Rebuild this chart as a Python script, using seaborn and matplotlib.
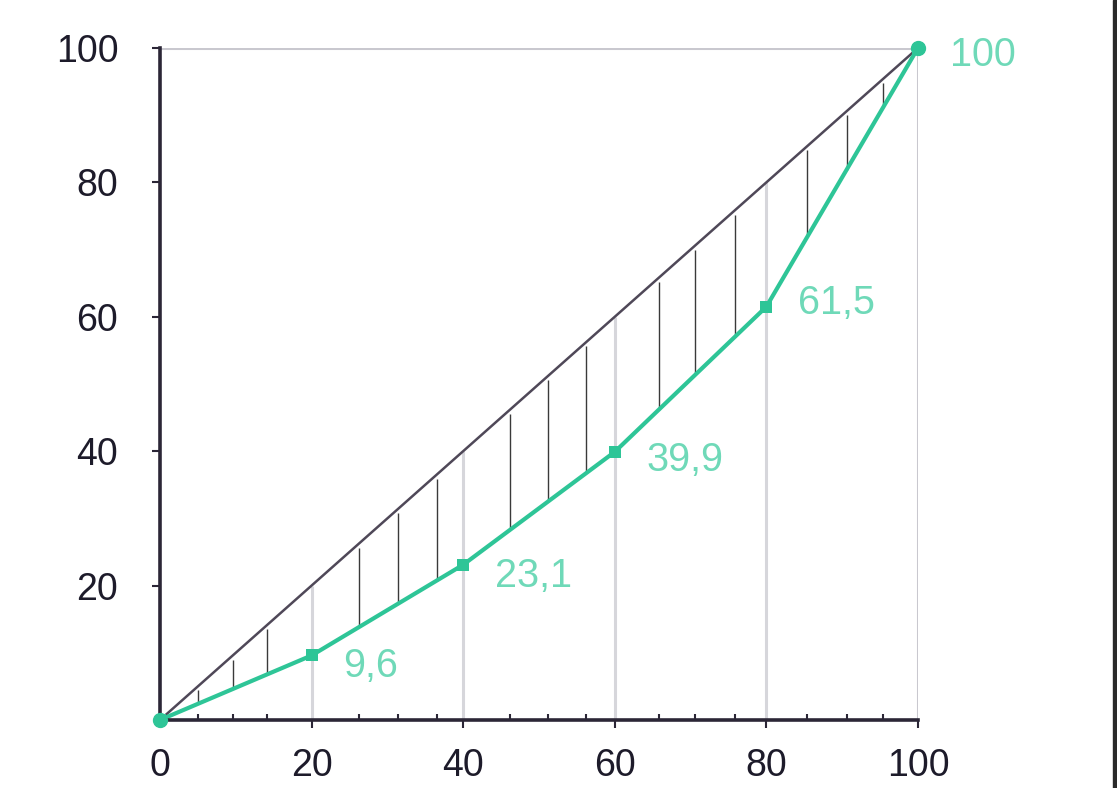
import matplotlib
matplotlib.use("Agg")
import matplotlib.pyplot as plt
import seaborn as sns
import numpy as np
import pandas as pd
from matplotlib.patches import Rectangle

# ---- data ----
pop_share = [0, 20, 40, 60, 80, 100]
income_share = [0, 9.6, 23.1, 39.9, 61.5, 100]
point_labels = ["", "9,6", "23,1", "39,9", "61,5", "100"]
hatch_x = [5, 9.6, 14.1, 26.2, 31.4, 36.5, 46.2, 51.2, 56.2, 65.8, 70.6, 75.8, 85.4, 90.6, 95.4]
grid_x = [20, 40, 60, 80]
xticks = [0, 20, 40, 60, 80, 100]
yticks = [20, 40, 60, 80, 100]

# layout offsets for the value labels (x, y in data units)
label_dx = 4.2
label_dy = [0, -1.6, -1.7, -1.2, 0.6, -1.0]

GREEN = "#2ec597"
LABEL_GREEN = "#6fd9b8"
DARK = "#2b2636"

sns.set_theme(style="white")
plt.rcParams['font.family'] = ['Liberation Sans', 'DejaVu Sans']

fig = plt.figure(figsize=(11.17, 7.88), dpi=100)
ax = fig.add_axes([0.1432, 0.0863, 0.6786, 0.8528])

df = pd.DataFrame({"x": pop_share, "y": income_share})
diag = pd.DataFrame({"x": [0, 100], "y": [0, 100]})

# gray grid lines from bottom to diagonal
ax.vlines(grid_x, 0, grid_x, colors="#d6d6db", lw=2.2, zorder=1)
ax.vlines([100], 0, 100, colors="#c9c8cf", lw=2.2, zorder=1)
ax.hlines([100], 0, 100, colors="#c9c8cf", lw=2.2, zorder=1)

# hatch lines between equality line and curve
bottoms = np.interp(hatch_x, pop_share, income_share)
ax.vlines(hatch_x, bottoms, np.array(hatch_x) - 0.6, colors="#3a3a3a", lw=1.0, zorder=2)

# equality diagonal
sns.lineplot(data=diag, x="x", y="y", ax=ax, color="#4f4858", lw=1.8, zorder=3)
# Lorenz curve
sns.lineplot(data=df, x="x", y="y", ax=ax, color=GREEN, lw=3.0, zorder=4,
             marker="s", markersize=8, markeredgewidth=0)

ax.plot([0, 100], [0, 100], 'o', color=GREEN, ms=10, zorder=5, clip_on=False)

for x, y, t, dy in zip(pop_share, income_share, point_labels, label_dy):
    if t:
        ax.text(x + label_dx, y + dy, t, color=LABEL_GREEN, fontsize=28.5,
                ha="left", va="center", zorder=6)

ax.set_xlim(0, 100)
ax.set_ylim(0, 100)
ax.set_xticks(xticks)
ax.set_yticks(yticks)
ax.set_xticklabels([str(t) for t in xticks])
ax.set_yticklabels([str(t) for t in yticks])
ax.set_xticks(hatch_x, minor=True)
ax.tick_params(axis="both", which="major", labelsize=27, labelcolor="#1d1b2a",
               direction="out", length=6, width=1.5, color=DARK,
               bottom=True, left=True)
ax.tick_params(axis="x", which="major", pad=14)
ax.tick_params(axis="y", which="major", pad=24)
ax.tick_params(axis="x", which="minor", direction="in", length=4, width=1.5,
               color=DARK, bottom=True)
ax.set_xlabel("")
ax.set_ylabel("")

for s in ["top", "right"]:
    ax.spines[s].set_visible(False)
for s in ["left", "bottom"]:
    ax.spines[s].set_color(DARK)
    ax.spines[s].set_linewidth(2.6)
    ax.spines[s].set_zorder(4.5)

# dark scan edge on the right
fig.add_artist(Rectangle((0.9965, 0), 0.0035, 1, transform=fig.transFigure,
                         color="#2a2a2a", zorder=10))

fig.savefig("out.png", dpi=100)
